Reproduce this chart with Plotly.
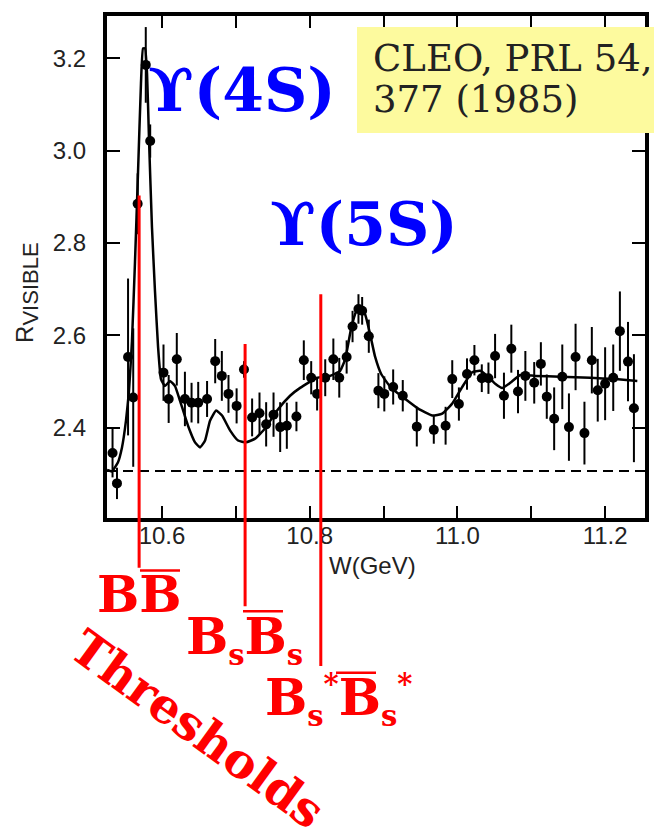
import plotly.graph_objects as go

# ---------------- data ----------------
w_data = [10.533, 10.539, 10.554, 10.561, 10.567, 10.578, 10.584, 10.602, 10.609, 10.620,
          10.631, 10.640, 10.649, 10.661, 10.672, 10.681, 10.690, 10.701, 10.711, 10.722,
          10.732, 10.741, 10.751, 10.760, 10.769, 10.782, 10.792, 10.802, 10.810, 10.821,
          10.832, 10.840, 10.850, 10.858, 10.866, 10.871, 10.880, 10.893, 10.901, 10.913,
          10.926, 10.945, 10.968, 10.984, 10.993, 11.002, 11.013, 11.023, 11.033, 11.042,
          11.051, 11.063, 11.073, 11.082, 11.092, 11.104, 11.113, 11.121, 11.131, 11.142,
          11.151, 11.160, 11.172, 11.182, 11.190, 11.200, 11.211, 11.220, 11.231, 11.239]
r_data = [2.345, 2.279, 2.553, 2.465, 2.885, 3.186, 3.021, 2.519, 2.462, 2.548,
          2.462, 2.454, 2.454, 2.462, 2.544, 2.512, 2.473, 2.447, 2.526, 2.422,
          2.431, 2.407, 2.428, 2.401, 2.404, 2.424, 2.546, 2.508, 2.473, 2.508,
          2.548, 2.508, 2.553, 2.619, 2.657, 2.653, 2.598, 2.480, 2.473, 2.488,
          2.469, 2.402, 2.395, 2.404, 2.505, 2.451, 2.516, 2.546, 2.507, 2.507,
          2.555, 2.469, 2.571, 2.478, 2.512, 2.497, 2.538, 2.467, 2.419, 2.510,
          2.401, 2.553, 2.388, 2.546, 2.481, 2.495, 2.508, 2.609, 2.543, 2.442]
r_err = [0.053, 0.034, 0.170, 0.150, 0.066, 0.082, 0.036, 0.061, 0.052, 0.057,
         0.059, 0.043, 0.045, 0.039, 0.048, 0.054, 0.041, 0.038, 0.018, 0.041,
         0.045, 0.048, 0.048, 0.054, 0.050, 0.032, 0.043, 0.036, 0.036, 0.040,
         0.045, 0.043, 0.036, 0.034, 0.032, 0.030, 0.036, 0.038, 0.038, 0.038,
         0.034, 0.043, 0.030, 0.041, 0.041, 0.036, 0.034, 0.033, 0.030, 0.034,
         0.048, 0.050, 0.052, 0.047, 0.054, 0.045, 0.047, 0.048, 0.068, 0.070,
         0.073, 0.072, 0.068, 0.072, 0.068, 0.079, 0.072, 0.086, 0.086, 0.117]

fit_w = [10.5255, 10.5322, 10.5404, 10.5458, 10.5512, 10.5553, 10.5593, 10.5634, 10.5675, 10.5715,
         10.5743, 10.5770, 10.5797, 10.5824, 10.5864, 10.5905, 10.5946, 10.5986, 10.6041, 10.6108,
         10.6176, 10.6244, 10.6352, 10.6447, 10.6515, 10.6583, 10.6650, 10.6732, 10.6813, 10.6921,
         10.7030, 10.7138, 10.7260, 10.7396, 10.7558, 10.7734, 10.7870, 10.8100, 10.8276, 10.8412,
         10.8480, 10.8561, 10.8629, 10.8683, 10.8751, 10.8818, 10.8886, 10.8968, 10.9103, 10.9293,
         10.9469, 10.9659, 10.9794, 10.9930, 11.0065, 11.0200, 11.0309, 11.0417, 11.0512, 11.0607,
         11.0715, 11.0851, 11.1054, 11.1393, 11.1799, 11.2138, 11.2436]
fit_r = [2.308, 2.305, 2.325, 2.357, 2.415, 2.480, 2.587, 2.759, 2.953, 3.146,
         3.222, 3.222, 3.168, 3.024, 2.834, 2.695, 2.576, 2.505, 2.490, 2.501,
         2.490, 2.458, 2.404, 2.368, 2.357, 2.372, 2.415, 2.437, 2.426, 2.394,
         2.372, 2.368, 2.376, 2.398, 2.437, 2.469, 2.486, 2.508, 2.512, 2.523,
         2.548, 2.615, 2.652, 2.662, 2.645, 2.602, 2.553, 2.516, 2.486, 2.462,
         2.441, 2.426, 2.430, 2.452, 2.488, 2.520, 2.523, 2.510, 2.495, 2.486,
         2.497, 2.514, 2.512, 2.510, 2.508, 2.505, 2.501]

baseline_r = 2.306

x_range = [10.5255, 11.254]
y_range = [2.204, 3.292]
x_ticks = [10.6, 10.7, 10.8, 10.9, 11.0, 11.1, 11.2]
x_ticktext = ["10.6", "", "10.8", "", "11.0", "", "11.2"]
y_ticks = [2.4, 2.6, 2.8, 3.0, 3.2]
y_ticktext = ["2.4", "2.6", "2.8", "3.0", "3.2"]

# thresholds: W position, top of marker line (R), bottom (paper units)
thr_w = [10.569, 10.7125, 10.815]
thr_top = [2.903, 2.581, 2.689]
thr_bottom_paper = [-0.099, -0.176, -0.295]

# ---------------- figure ----------------
fig = go.Figure()

fig.add_trace(go.Scatter(
    x=fit_w, y=fit_r, mode="lines",
    line=dict(color="black", width=2.5, shape="spline", smoothing=0.4),
    hoverinfo="skip", showlegend=False))

fig.add_trace(go.Scatter(
    x=w_data, y=r_data, mode="markers",
    marker=dict(color="black", size=10),
    error_y=dict(type="data", array=r_err, visible=True, color="black", thickness=2, width=0),
    showlegend=False))

shapes = []
shapes.append(dict(type="line", xref="paper", yref="y", x0=0, x1=1, y0=baseline_r, y1=baseline_r,
                   line=dict(color="black", width=2, dash="10px,6px"), layer="above"))
for w, top, bot in zip(thr_w, thr_top, thr_bottom_paper):
    shapes.append(dict(type="line", xref="x", yref="paper", x0=w, x1=w,
                       y0=(top - y_range[0]) / (y_range[1] - y_range[0]), y1=bot,
                       line=dict(color="red", width=3), layer="above"))
for x0, x1, y in [(0.0613, 0.1357, -0.1047), (0.2528, 0.3271, -0.1858), (0.4257, 0.5000, -0.3083)]:
    shapes.append(dict(type="line", xref="paper", yref="paper", x0=x0, x1=x1, y0=y, y1=y,
                       line=dict(color="red", width=2.5), layer="above"))
shapes.append(dict(type="rect", xref="paper", yref="paper", x0=0.4647, x1=1.04, y0=0.7668, y1=0.978,
                   fillcolor="#fdfa9e", line=dict(width=0), layer="above"))

serif = "DejaVu Serif"
sub_s = '<sub><span style="font-size:29px">s</span></sub>'
sup_star = '<sup><span style="font-size:29px">*</span></sup>'
ann = []
ann.append(dict(text="<b>ϒ(4S)</b>", x=0.251, y=0.853, font=dict(family=serif, size=60, color="#0000ff")))
ann.append(dict(text="<b>ϒ(5S)</b>", x=0.478, y=0.585, font=dict(family=serif, size=60, color="#0000ff")))
ann.append(dict(text="CLEO, PRL 54,", x=0.49, y=0.915, xanchor="left",
                font=dict(family=serif, size=37, color="#222222")))
ann.append(dict(text="377 (1985)", x=0.49, y=0.833, xanchor="left",
                font=dict(family=serif, size=37, color="#222222")))
ann.append(dict(text="<b>BB</b>", x=0.0595, y=-0.152, font=dict(family=serif, size=50, color="red")))
ann.append(dict(text="<b>B" + sub_s + "B" + sub_s + "</b>", x=0.1432, y=-0.243,
                xanchor="left", font=dict(family=serif, size=50, color="red")))
ann.append(dict(text="<b>B" + sub_s + sup_star + "B" + sub_s + sup_star + "</b>", x=0.2900, y=-0.362,
                xanchor="left", font=dict(family=serif, size=50, color="red")))
ann.append(dict(text="<b>Thresholds</b>", x=0.169, y=-0.421, textangle=36,
                font=dict(family=serif, size=48, color="red")))
ann.append(dict(text="W(GeV)", x=0.4935, y=-0.095, font=dict(family="Liberation Sans", size=24, color="#222222")))
ann.append(dict(text='R<sub><span style="font-size:22px">VISIBLE</span></sub>', x=-0.150, y=0.449, textangle=-90,
                font=dict(family="Liberation Sans", size=24, color="#222222")))
for a in ann:
    a.setdefault("xanchor", "center")
    a.setdefault("yanchor", "middle")
    a.update(xref="paper", yref="paper", showarrow=False)

axis_common = dict(showline=True, linewidth=4, linecolor="black", mirror="ticks",
                   ticks="inside", tickwidth=2, tickcolor="black", showgrid=False, zeroline=False,
                   tickfont=dict(family="Liberation Sans", size=24, color="#222222"))

fig.update_layout(
    width=654, height=821,
    margin=dict(l=99, r=17, t=4, b=311),
    paper_bgcolor="white", plot_bgcolor="white",
    xaxis=dict(range=x_range, tickvals=x_ticks, ticktext=x_ticktext, ticklen=12,
               ticklabelstandoff=-7, **axis_common),
    yaxis=dict(range=y_range, tickvals=y_ticks, ticktext=y_ticktext, ticklen=13,
               ticklabelstandoff=12, **axis_common),
    shapes=shapes, annotations=ann, showlegend=False,
)

fig.write_html("out.html")
